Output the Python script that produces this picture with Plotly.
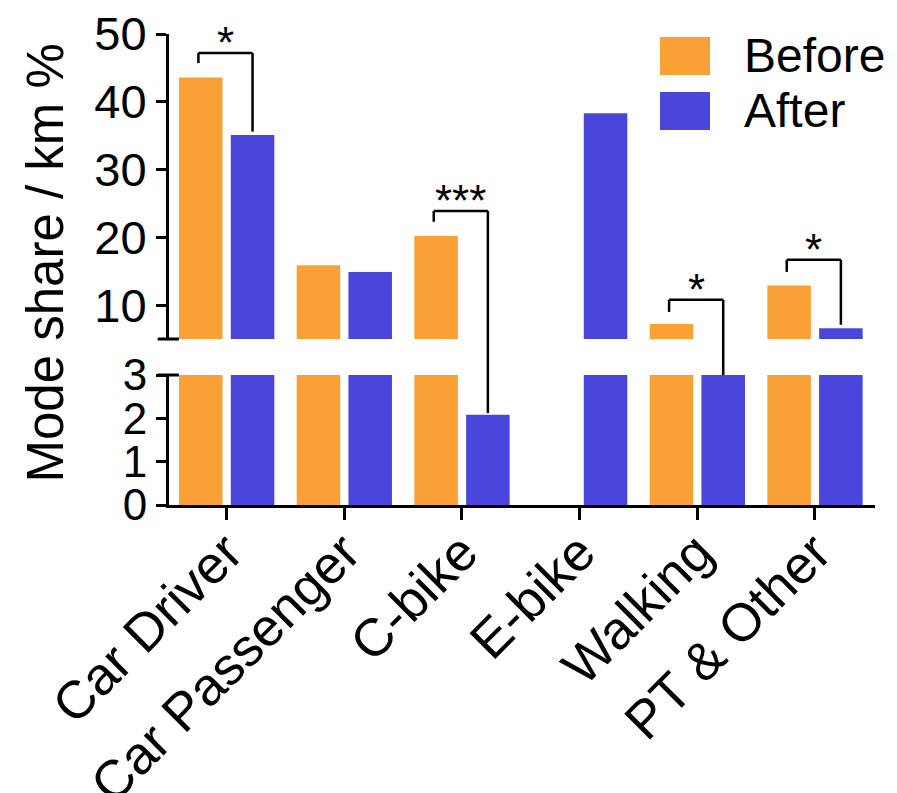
import plotly.graph_objects as go

categories = ["Car Driver", "Car Passenger", "C-bike", "E-bike", "Walking", "PT & Other"]
before = [43.6, 15.9, 20.2, 0.0, 7.2, 12.9]
after = [35.1, 14.9, 2.08, 38.3, 4.0, 6.6]
series_names = ["Before", "After"]
top_ticks = [10, 20, 30, 40, 50]
bottom_ticks = [0, 1, 2, 3]

# significance brackets: category index, label, bracket height (%), left drop end (%)
sig_idx = [0, 2, 4, 5]
sig_label = ["*", "***", "*", "*"]
sig_top = [47.2, 23.9, 10.8, 16.7]
sig_left = [45.7, 22.3, 9.0, 14.9]

ORANGE = "#F9A136"
BLUE = "#4A46DC"
FONT = "Liberation Sans, Arial, sans-serif"

TOP_RANGE = [5, 50]
BOT_RANGE = [0, 3]
TOP_DOM = [0.3524, 1.0]
BOT_DOM = [0.0, 0.276]

x = list(range(len(categories)))
fig = go.Figure()
for yax in ["y", "y2"]:
    fig.add_trace(go.Bar(x=x, y=before, name=series_names[0], yaxis=yax, xaxis="x",
                         marker=dict(color=ORANGE, line=dict(width=0)),
                         offset=-0.405, width=0.37, showlegend=False))
    fig.add_trace(go.Bar(x=x, y=after, name=series_names[1], yaxis=yax, xaxis="x",
                         marker=dict(color=BLUE, line=dict(width=0)),
                         offset=0.035, width=0.37, showlegend=False))

shapes = []
annotations = []
LW = 2.5
L_OFF, R_OFF = -0.24, 0.22
for i, lab, top, left in zip(sig_idx, sig_label, sig_top, sig_left):
    xl, xr = i + L_OFF, i + R_OFF
    shapes.append(dict(type="line", xref="x", yref="y2", x0=xl, x1=xl, y0=left, y1=top,
                       line=dict(color="black", width=LW)))
    shapes.append(dict(type="line", xref="x", yref="y2", x0=xl, x1=xr, y0=top, y1=top,
                       line=dict(color="black", width=LW)))
    end = after[i]
    if end >= TOP_RANGE[0]:
        shapes.append(dict(type="line", xref="x", yref="y2", x0=xr, x1=xr, y0=top, y1=end + 0.5,
                           line=dict(color="black", width=LW)))
    else:
        shapes.append(dict(type="line", xref="x", yref="y2", x0=xr, x1=xr, y0=top, y1=TOP_RANGE[0],
                           line=dict(color="black", width=LW)))
        shapes.append(dict(type="line", xref="x", yref="paper", x0=xr, x1=xr,
                           y0=TOP_DOM[0], y1=BOT_DOM[1],
                           line=dict(color="black", width=LW)))
        if end < BOT_RANGE[1]:
            shapes.append(dict(type="line", xref="x", yref="y", x0=xr, x1=xr,
                               y0=BOT_RANGE[1], y1=end + 0.04,
                               line=dict(color="black", width=LW)))
    annotations.append(dict(x=(xl + xr) / 2, y=top, xref="x", yref="y2", text=lab,
                            showarrow=False, yanchor="bottom", yshift=-16,
                            font=dict(family=FONT, size=44, color="black")))

# axis break caps
for yy in [TOP_DOM[0], BOT_DOM[1]]:
    shapes.append(dict(type="line", xref="paper", yref="paper", x0=-0.016, x1=0.014,
                       y0=yy, y1=yy, line=dict(color="black", width=3)))

# legend drawn manually
leg = [(ORANGE, 0.9936, 0.913, series_names[0]), (BLUE, 0.8769, 0.7962, series_names[1])]
for col, y1, y0, name in leg:
    shapes.append(dict(type="rect", xref="paper", yref="paper", x0=0.6955, x1=0.7663,
                       y0=y0, y1=y1, fillcolor=col, line=dict(width=0)))
    annotations.append(dict(x=0.8116, y=(y0 + y1) / 2, xref="paper", yref="paper", text=name,
                            showarrow=False, xanchor="left", yanchor="middle",
                            font=dict(family=FONT, size=48, color="black")))

annotations.append(dict(x=-0.1756, y=0.5127, xref="paper", yref="paper",
                        text="Mode share / km %", textangle=-90, showarrow=False,
                        xanchor="center", yanchor="middle",
                        font=dict(family=FONT, size=51, color="black")))

axis_common = dict(showline=True, linecolor="black", linewidth=3, ticks="outside",
                   ticklen=10, tickwidth=3, tickcolor="black", showgrid=False, zeroline=False,
                   automargin=False)

fig.update_layout(
    width=897, height=793,
    margin=dict(l=169, r=22, t=34, b=288),
    paper_bgcolor="white", plot_bgcolor="white",
    barmode="overlay",
    showlegend=False,
    xaxis=dict(range=[-0.49, 5.51], tickvals=x, ticktext=categories, tickangle=-45,
               showline=True, linecolor="black", linewidth=3, ticks="outside", ticklen=12,
               tickwidth=3, tickcolor="black", showgrid=False, zeroline=False, anchor="y",
               automargin=False, ticklabelstandoff=-20,
               tickfont=dict(family=FONT, size=53, color="black")),
    yaxis=dict(domain=BOT_DOM, range=BOT_RANGE, tickvals=bottom_ticks, anchor="x",
               tickfont=dict(family=FONT, size=44, color="black"), **axis_common),
    yaxis2=dict(domain=TOP_DOM, range=TOP_RANGE, tickvals=top_ticks, anchor="x",
                tickfont=dict(family=FONT, size=47, color="black"), **axis_common),
    shapes=shapes,
    annotations=annotations,
)

fig.write_html("out.html", config={"displayModeBar": False},
               post_script="document.body.style.margin='0';document.body.style.overflow='hidden';")
